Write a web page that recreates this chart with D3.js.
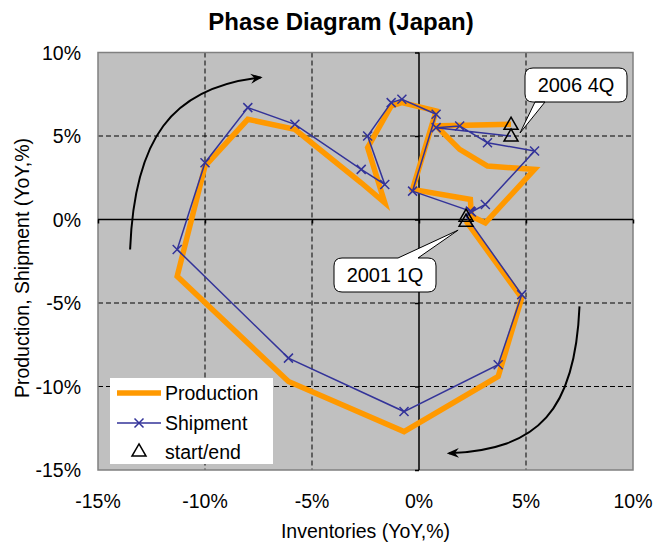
<!DOCTYPE html>
<html>
<head>
<meta charset="utf-8">
<script src="https://cdn.jsdelivr.net/npm/d3@7"></script>
<style>
  body { margin: 0; background: #fff; }
  text { font-family: "Liberation Sans", Arial, sans-serif; fill: #000; }
</style>
</head>
<body>
<div id="chart"></div>
<script>
// Data //
var quarters = ["2001 1Q","2001 2Q","2001 3Q","2001 4Q","2002 1Q","2002 2Q","2002 3Q","2002 4Q",
                "2003 1Q","2003 2Q","2003 3Q","2003 4Q","2004 1Q","2004 2Q","2004 3Q","2004 4Q",
                "2005 1Q","2005 2Q","2005 3Q","2005 4Q","2006 1Q","2006 2Q","2006 3Q","2006 4Q"];
var inventories = [2.2, 4.8, 3.7, -0.7, -6.1, -11.3, -10.0, -8.0, -5.8, -2.7, -1.6, -2.4,
                   -1.3, -0.8, 0.8, -0.3, 2.4, 2.45, 3.1, 5.4, 3.2, 1.9, 0.8, 4.3];
var production = [-0.1, -4.7, -9.4, -12.7, -9.7, -3.4, 3.2, 6.0, 5.4, 2.2, 1.0, 4.3,
                  6.8, 7.0, 6.5, 1.8, 1.2, 0.2, -0.2, 3.0, 3.2, 4.2, 5.6, 5.7];
var shipment = [0.2, -4.5, -8.7, -11.5, -8.3, -1.8, 3.4, 6.7, 5.7, 3.0, 2.1, 5.0,
                7.0, 7.2, 6.3, 1.7, 0.5, 0.45, 0.9, 4.1, 4.6, 5.6, 5.5, 5.0];
var ticks = [-15, -10, -5, 0, 5, 10];

// SVG Setup //
var width = 657, height = 544;
var plot = {left: 98, right: 633, top: 52.5, bottom: 470};
var fs = "19.5px";

var svg = d3.select("#chart").append("svg")
  .attr("width", width)
  .attr("height", height);

var x = d3.scaleLinear().domain([-15, 10]).range([plot.left, plot.right]);
var y = d3.scaleLinear().domain([-15, 10]).range([plot.bottom, plot.top]);

var defs = svg.append("defs");
defs.append("marker")
  .attr("id", "head")
  .attr("viewBox", "-10 -6 12 12")
  .attr("markerWidth", 12).attr("markerHeight", 12)
  .attr("markerUnits", "userSpaceOnUse")
  .attr("orient", "auto")
  .append("path")
  .attr("d", "M-10,-5L2,0L-10,5L-6,0Z")
  .attr("fill", "#000");

// plot area
svg.append("rect")
  .attr("x", plot.left).attr("y", plot.top)
  .attr("width", plot.right - plot.left).attr("height", plot.bottom - plot.top)
  .attr("fill", "#c0c0c0");

// dashed grid
var inner = ticks.filter(function(d) { return d != 0 && d != -15 && d != 10; });
svg.append("g").selectAll("line")
  .data(inner)
  .enter().append("line")
  .attr("x1", function(d) { return x(d); }).attr("x2", function(d) { return x(d); })
  .attr("y1", plot.top).attr("y2", plot.bottom)
  .attr("stroke", "#000").attr("stroke-dasharray", "5,3");

svg.append("g").selectAll("line")
  .data(inner)
  .enter().append("line")
  .attr("y1", function(d) { return y(d); }).attr("y2", function(d) { return y(d); })
  .attr("x1", plot.left).attr("x2", plot.right)
  .attr("stroke", "#000").attr("stroke-dasharray", "5,3");

svg.append("rect")
  .attr("x", plot.left).attr("y", plot.top)
  .attr("width", plot.right - plot.left).attr("height", plot.bottom - plot.top)
  .attr("fill", "none").attr("stroke", "#808080").attr("stroke-width", 1.5);

// axes through zero
var xAxis = d3.axisBottom(x).tickValues(ticks).tickSize(4).tickFormat("");
svg.append("g")
  .attr("transform", "translate(0," + y(0) + ")")
  .call(xAxis)
  .call(function(g) { g.selectAll("line, path").attr("stroke", "#000").attr("stroke-width", 1.5); })
  .select(".domain").attr("d", "M" + plot.left + ",0H" + plot.right);

var yAxis = d3.axisLeft(y).tickValues(ticks).tickSize(4).tickFormat("");
svg.append("g")
  .attr("transform", "translate(" + x(0) + ",0)")
  .call(yAxis)
  .call(function(g) { g.selectAll("line, path").attr("stroke", "#000").attr("stroke-width", 1.5); })
  .select(".domain").attr("d", "M0," + plot.top + "V" + plot.bottom);

// tick labels
svg.append("g").selectAll("text")
  .data(ticks).enter().append("text")
  .attr("x", function(d) { return x(d); })
  .attr("y", plot.bottom + 38)
  .attr("text-anchor", "middle")
  .style("font-size", fs)
  .text(function(d) { return d + "%"; });

svg.append("g").selectAll("text")
  .data(ticks).enter().append("text")
  .attr("x", 81)
  .attr("y", function(d) { return y(d) + 7; })
  .attr("text-anchor", "end")
  .style("font-size", fs)
  .text(function(d) { return d + "%"; });

// titles
svg.append("text")
  .attr("x", 341).attr("y", 30)
  .attr("text-anchor", "middle")
  .style("font-size", "24px").style("font-weight", "bold")
  .text("Phase Diagram (Japan)");

svg.append("text")
  .attr("x", (plot.left + plot.right) / 2).attr("y", 538)
  .attr("text-anchor", "middle")
  .style("font-size", fs)
  .text("Inventories (YoY,%)");

svg.append("text")
  .attr("transform", "translate(29,268) rotate(-90)")
  .attr("text-anchor", "middle")
  .style("font-size", fs)
  .text("Production, Shipment (YoY,%)");

// curved arrows
var arrows = [
  [[-13.5, -1.8], [-13.3, 4.8], [-11.6, 7.9], [-7.4, 8.5]],
  [[7.5, -5.2], [7.3, -11.4], [5.6, -13.8], [1.4, -14.0]]
];
svg.append("g").selectAll("path")
  .data(arrows).enter().append("path")
  .attr("d", function(p) {
    return "M" + x(p[0][0]) + "," + y(p[0][1]) +
      "C" + x(p[1][0]) + "," + y(p[1][1]) + " " + x(p[2][0]) + "," + y(p[2][1]) + " " + x(p[3][0]) + "," + y(p[3][1]);
  })
  .attr("fill", "none").attr("stroke", "#000").attr("stroke-width", 2)
  .attr("marker-end", "url(#head)");

// series
var line = d3.line()
  .x(function(d) { return x(d[0]); })
  .y(function(d) { return y(d[1]); });

var prodPts = inventories.map(function(v, i) { return [v, production[i]]; });
var shipPts = inventories.map(function(v, i) { return [v, shipment[i]]; });

svg.append("path")
  .attr("d", line(prodPts))
  .attr("fill", "none").attr("stroke", "#ff9900").attr("stroke-width", 5.5)
  .attr("stroke-linejoin", "miter");

svg.append("path")
  .attr("d", line(shipPts))
  .attr("fill", "none").attr("stroke", "#333399").attr("stroke-width", 1.5);

var cross = "M-4.5,-4.5L4.5,4.5M-4.5,4.5L4.5,-4.5";
svg.append("g").selectAll("path")
  .data(shipPts.slice(1, -1)).enter().append("path")
  .attr("transform", function(d) { return "translate(" + x(d[0]) + "," + y(d[1]) + ")"; })
  .attr("d", cross)
  .attr("stroke", "#333399").attr("stroke-width", 1.5);

// start / end triangles
var tri = d3.symbol().type(d3.symbolTriangle).size(85);
var ends = [prodPts[0], shipPts[0], prodPts[prodPts.length - 1], shipPts[shipPts.length - 1]];
svg.append("g").selectAll("path")
  .data(ends).enter().append("path")
  .attr("transform", function(d) { return "translate(" + x(d[0]) + "," + (y(d[1]) + 1) + ")"; })
  .attr("d", tri)
  .attr("fill", "none").attr("stroke", "#000").attr("stroke-width", 1.5);

// callouts
function callout(pt, label, bx, by, tail) {
  var px = x(pt[0]) + tail[0], py = y(pt[1]) + tail[1];
  var w = 102, h = 34, r = 8;
  var g = svg.append("g");
  var t0 = tail[2], t1 = tail[3];
  var d = "M" + (bx + r) + "," + by;
  if (by > py) d += "H" + t0 + "L" + px + "," + py + "L" + t1 + "," + by;
  d += "H" + (bx + w - r) + "Q" + (bx + w) + "," + by + " " + (bx + w) + "," + (by + r) +
    "V" + (by + h - r) + "Q" + (bx + w) + "," + (by + h) + " " + (bx + w - r) + "," + (by + h);
  if (by < py) d += "H" + t1 + "L" + px + "," + py + "L" + t0 + "," + (by + h);
  d += "H" + (bx + r) + "Q" + bx + "," + (by + h) + " " + bx + "," + (by + h - r) +
    "V" + (by + r) + "Q" + bx + "," + by + " " + (bx + r) + "," + by + "Z";
  g.append("path").attr("d", d)
    .attr("fill", "#fff").attr("stroke", "#000").attr("stroke-width", 1);
  g.append("text")
    .attr("x", bx + w / 2).attr("y", by + h / 2 + 7)
    .attr("text-anchor", "middle")
    .style("font-size", "20px")
    .text(label);
}
callout(shipPts[shipPts.length - 1], quarters[quarters.length - 1], 525, 68, [9, -3, 545, 535]);
callout(prodPts[0], quarters[0], 334, 258, [-8, 9, 398, 418]);

// legend
var lg = svg.append("g");
lg.append("rect")
  .attr("x", 110).attr("y", 378).attr("width", 163).attr("height", 86)
  .attr("fill", "#fff");
lg.append("line").attr("x1", 117).attr("x2", 161).attr("y1", 393).attr("y2", 393)
  .attr("stroke", "#ff9900").attr("stroke-width", 5.5);
lg.append("line").attr("x1", 117).attr("x2", 161).attr("y1", 423).attr("y2", 423)
  .attr("stroke", "#333399").attr("stroke-width", 1.5);
lg.append("path").attr("transform", "translate(139,423)").attr("d", cross)
  .attr("stroke", "#333399").attr("stroke-width", 1.5);
lg.append("path").attr("transform", "translate(139,452)").attr("d", tri)
  .attr("fill", "none").attr("stroke", "#000").attr("stroke-width", 1.5);
lg.selectAll("text.lab")
  .data(["Production", "Shipment", "start/end"]).enter().append("text")
  .attr("x", 165)
  .attr("y", function(d, i) { return 400 + i * 29.5; })
  .style("font-size", fs)
  .text(function(d) { return d; });
</script>
</body>
</html>
